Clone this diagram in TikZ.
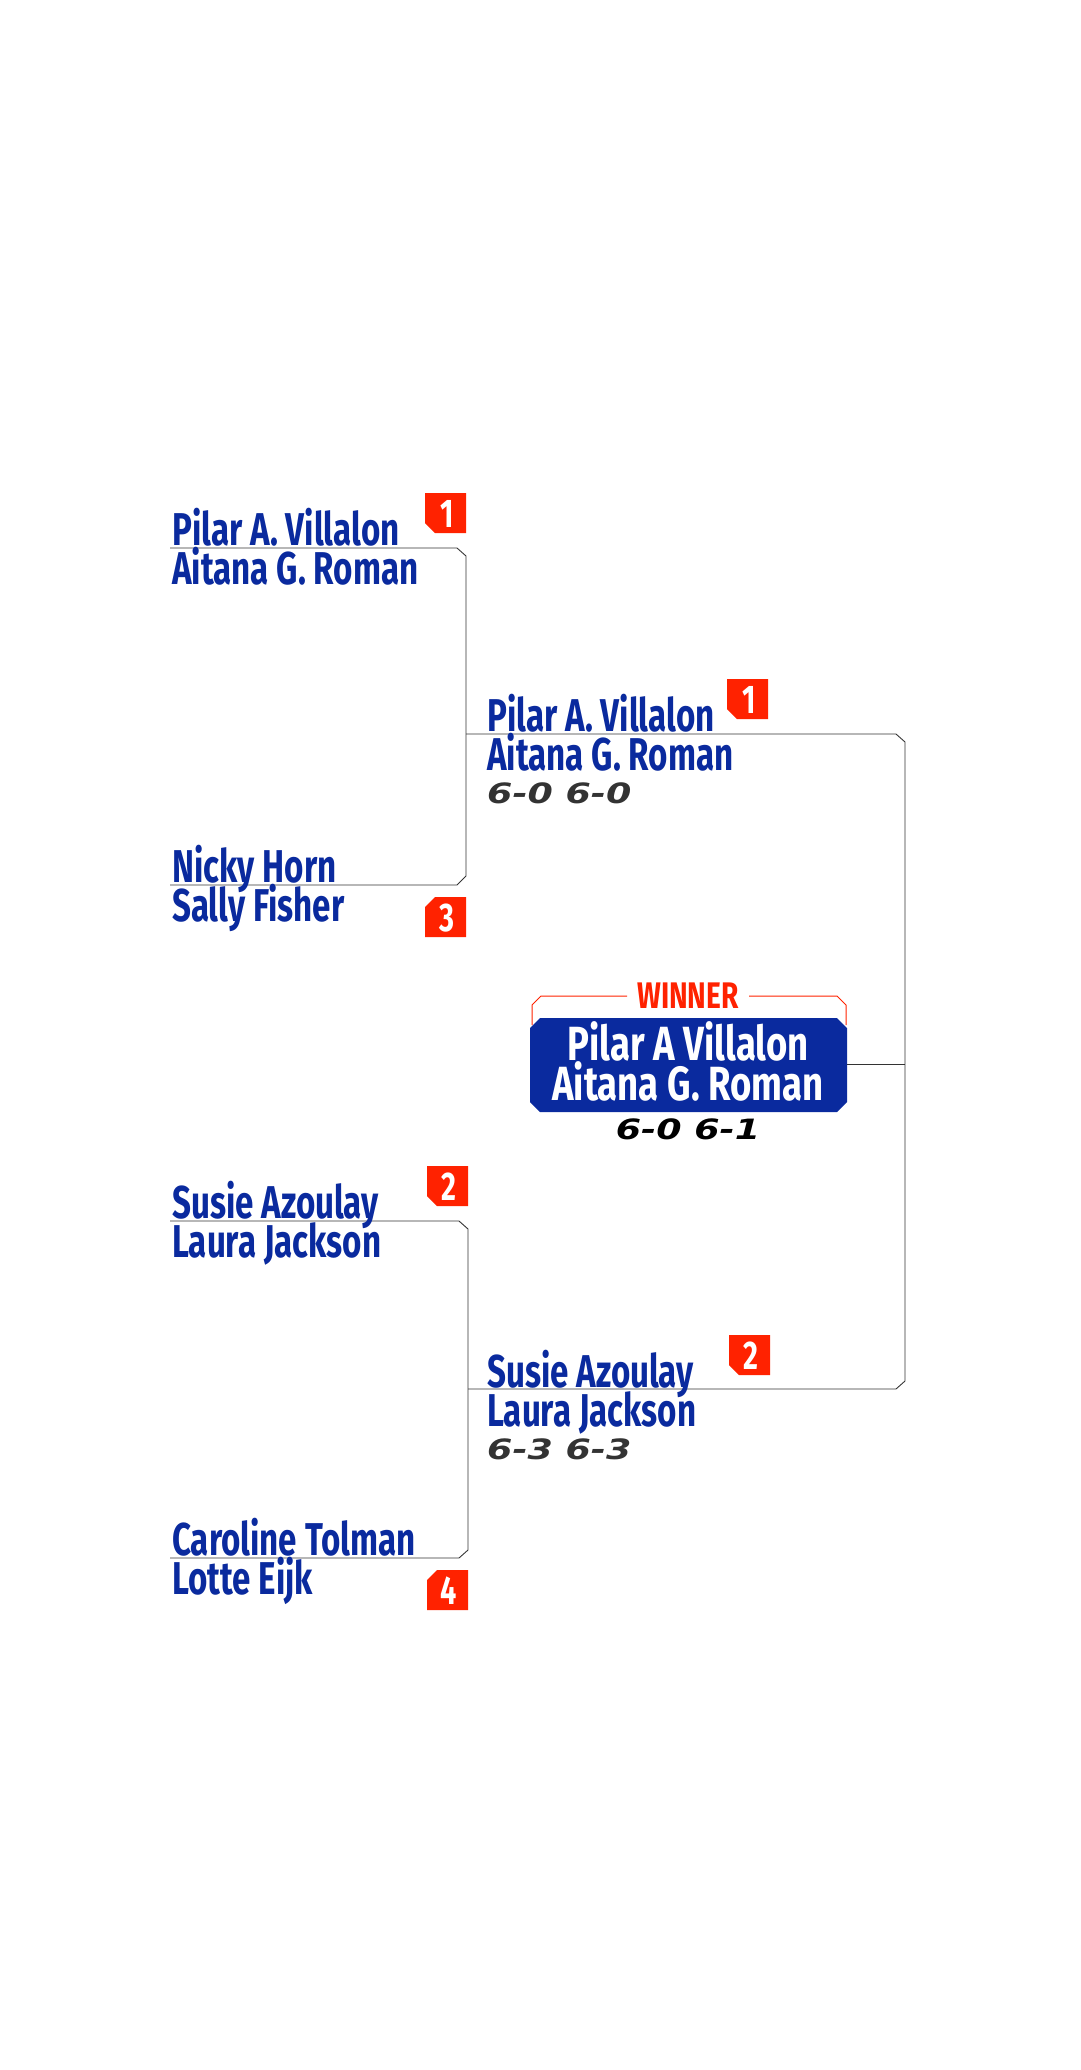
\documentclass[tikz,border=0pt]{standalone}
\usepackage{fontspec}
\newfontfamily\cond{Fira Sans}[FakeStretch=0.72,UprightFont=* Bold]
\newfontfamily\condw{Fira Sans}[FakeStretch=0.76,UprightFont=* Bold]
\newfontfamily\wide{DejaVu Sans}[FakeStretch=1.3,UprightFont=* Bold Oblique]
\definecolor{nblue}{HTML}{0A2A9E}
\definecolor{nred}{HTML}{FF2200}
\definecolor{dgray}{HTML}{333333}
\begin{document}
\begin{tikzpicture}[x=1pt,y=-1pt,
  pname/.style={anchor=base west,inner sep=0pt,font=\cond\fontsize{46}{46}\selectfont,text=nblue},
  score/.style={anchor=base west,inner sep=0pt,font=\wide\fontsize{28}{28}\selectfont,text=dgray},
  seed/.style={font=\cond\fontsize{40}{40}\selectfont,text=white,inner sep=0pt},
  ln/.style={draw=black!80,line width=0.9pt}]
\useasboundingbox (0,0) rectangle (1080,2070);
\newcommand{\seedB}[3]{%
  \fill[nred] (#1,#2) -- (#1+41,#2) -- (#1+41,#2+40) -- (#1+10,#2+40) -- (#1,#2+30) -- cycle;
  \node[seed,anchor=base] at (#1+22,#2+34) {#3};}
\newcommand{\seedT}[3]{%
  \fill[nred] (#1+10,#2) -- (#1+41,#2) -- (#1+41,#2+40) -- (#1,#2+40) -- (#1,#2+10) -- cycle;
  \node[seed,anchor=base] at (#1+22,#2+34) {#3};}
% bracket 1
\coordinate (a1) at (170,548); \coordinate (a2) at (170,885);
\draw[ln] (a1) -- (457,548) -- (466,556) -- (466,876) -- (457,885) -- (a2);
\node[pname] (p1) at (172,545) {Pilar A. Villalon};
\node[pname] (p2) at (172,584) {Aitana G. Roman};
\node[pname] (p3) at (172,882) {Nicky Horn};
\node[pname] (p4) at (172,921) {Sally Fisher};
\seedB{425}{493}{1}
\seedT{425}{897}{3}
% bracket 2
\coordinate (b1) at (170,1221); \coordinate (b2) at (170,1558);
\draw[ln] (b1) -- (459,1221) -- (468,1229) -- (468,1550) -- (459,1558) -- (b2);
\node[pname] (q1) at (172,1218) {Susie Azoulay};
\node[pname] (q2) at (172,1257) {Laura Jackson};
\node[pname] (q3) at (172,1555) {Caroline Tolman};
\node[pname] (q4) at (172,1594) {Lotte Eijk};
\seedB{427}{1166}{2}
\seedT{427}{1570}{4}
% final bracket
\coordinate (c1) at (466,734); \coordinate (c2) at (468,1389);
\draw[ln] (c1) -- (896,734) -- (905,742) -- (905,1381) -- (896,1389) -- (c2);
\node[pname] (s1) at (487,731) {Pilar A. Villalon};
\node[pname] (s2) at (487,770) {Aitana G. Roman};
\node[score] (s3) at (487,803) {6-0 6-0};
\seedB{727}{679}{1}
\node[pname] (t1) at (487,1387) {Susie Azoulay};
\node[pname] (t2) at (487,1426) {Laura Jackson};
\node[score] (t3) at (487,1459) {6-3 6-3};
\seedB{729}{1335}{2}
% winner
\fill[nblue] (540,1018) -- (837,1018) -- (847,1028) -- (847,1102) -- (837,1112) -- (540,1112) -- (530,1102) -- (530,1028) -- cycle;
\draw[nred,line width=1pt] (532,1025) -- (532,1005) -- (541,996) -- (627,996);
\draw[nred,line width=1pt] (749,996) -- (837,996) -- (846,1005) -- (846,1025);
\node[anchor=base,inner sep=0pt,font=\condw\fontsize{37}{37}\selectfont,text=nred] (w) at (688,1008) {WINNER};
\node[anchor=base,inner sep=0pt,font=\condw\fontsize{48}{48}\selectfont,text=white] (w1) at (688,1060) {Pilar A Villalon};
\node[anchor=base,inner sep=0pt,font=\condw\fontsize{48}{48}\selectfont,text=white] (w2) at (688,1100) {Aitana G. Roman};
\node[anchor=base,inner sep=0pt,font=\wide\fontsize{28}{28}\selectfont,text=black] (w3) at (688,1139) {6-0 6-1};
\coordinate (wr) at (847,1064);
\draw[ln] (wr) -- (905,1064);
\end{tikzpicture}
\end{document}
